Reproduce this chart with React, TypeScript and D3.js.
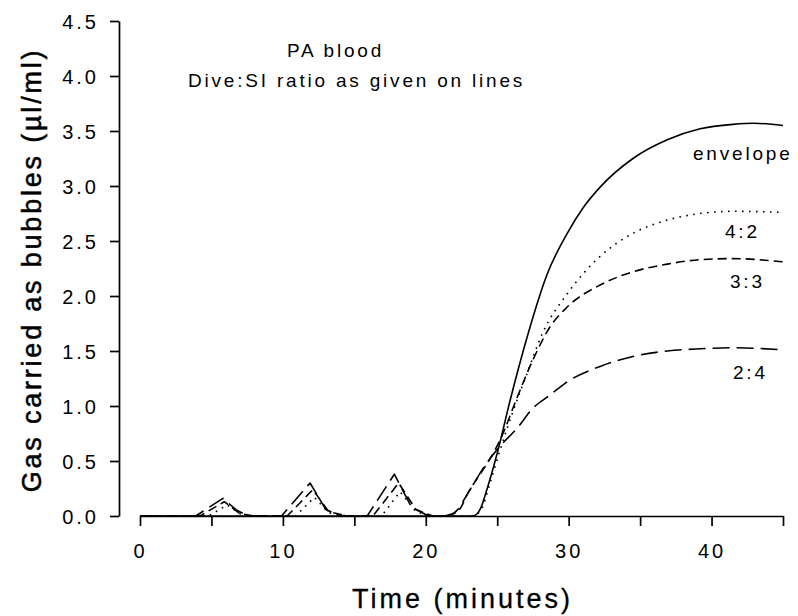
import React, { useEffect, useRef } from 'react';
import * as d3 from 'd3';

const xTicks = [0, 5, 10, 15, 20, 25, 30, 35, 40, 45];
const yTicks = [0, 0.5, 1, 1.5, 2, 2.5, 3, 3.5, 4, 4.5];

// [time (min), gas (µl/ml)]
const envelope: [number, number][] = [
  [0, 0], [22, 0], [23.3, 0], [23.8, 0.06], [24.3, 0.25], [25.0, 0.57], [25.9, 1.05],
  [27.1, 1.63], [28.5, 2.2], [29.9, 2.57], [31.0, 2.8], [32.2, 2.99], [34.5, 3.25],
  [36.9, 3.42], [39.2, 3.52], [41.5, 3.56], [43.0, 3.57], [45, 3.55],
];

const ratio42: [number, number][] = [
  [0, 0], [4.8, 0], [6.1, 0.1], [7.0, 0.02], [8.0, 0], [10.9, 0], [12.2, 0.17], [13.2, 0.03],
  [14.5, 0], [16.9, 0], [18.2, 0.22], [19.3, 0.04], [20.4, 0], [23.2, 0], [23.8, 0.04],
  [24.5, 0.3], [25.2, 0.6], [26.1, 0.95], [27.1, 1.3], [28.2, 1.67], [29.9, 2.02],
  [32.2, 2.36], [34.5, 2.57], [36.9, 2.69], [39.2, 2.75], [41.5, 2.77], [45, 2.76],
];

const ratio33: [number, number][] = [
  [0, 0], [4.2, 0], [5.9, 0.13], [7.0, 0.02], [8.0, 0], [10.3, 0], [12.1, 0.24], [13.2, 0.04],
  [14.5, 0], [16.3, 0], [18.1, 0.3], [19.3, 0.06], [20.5, 0], [21.5, 0], [22.3, 0.05],
  [23.0, 0.22], [23.8, 0.38], [24.4, 0.5], [25.2, 0.69], [26.4, 1.08], [27.5, 1.42],
  [28.7, 1.72], [29.9, 1.9], [32.2, 2.1], [34.5, 2.22], [36.9, 2.29], [39.2, 2.33],
  [41.5, 2.34], [45, 2.31],
];

const ratio24: [number, number][] = [
  [0, 0], [3.9, 0], [5.8, 0.16], [6.8, 0.05], [7.6, 0], [9.9, 0], [11.9, 0.3], [13.0, 0.06],
  [14.0, 0], [15.9, 0], [17.8, 0.38], [19.0, 0.08], [20.2, 0], [21.3, 0], [22.0, 0.03],
  [23.1, 0.24], [24.1, 0.45], [25.1, 0.62], [26.4, 0.8], [27.5, 0.98], [28.7, 1.1],
  [29.9, 1.22], [32.2, 1.36], [34.5, 1.45], [36.9, 1.5], [39.2, 1.52], [41.5, 1.53], [45, 1.51],
];

const FONT = '"Liberation Sans", Arial, Helvetica, sans-serif';

const App = () => {
  const ref = useRef<SVGSVGElement>(null);

  useEffect(() => {
    const svg = d3.select(ref.current);
    svg.selectAll('*').remove();

    const x = d3.scaleLinear().domain([0, 45]).range([140, 783]);
    const y = d3.scaleLinear().domain([0, 4.5]).range([516, 21]);

    // y axis sits a little left of where the x axis starts
    const yAxis = svg.append('g')
      .attr('transform', 'translate(119,0)')
      .call(d3.axisLeft(y).tickValues(yTicks).tickSize(9).tickSizeOuter(0).tickPadding(11)
        .tickFormat((d) => d3.format('.1f')(d as number)));

    const xAxis = svg.append('g')
      .attr('transform', 'translate(0,516)')
      .call(d3.axisBottom(x).tickValues(xTicks).tickSize(10).tickSizeOuter(0).tickPadding(18)
        .tickFormat((d) => ((d as number) % 10 === 0 ? String(d) : '')));

    [yAxis, xAxis].forEach((g) => {
      g.selectAll('path, line').attr('stroke', '#000').attr('stroke-width', 1.7);
      g.selectAll('text')
        .attr('fill', '#000')
        .style('font-family', FONT)
        .style('font-size', '20px')
        .style('letter-spacing', '3px');
    });
    yAxis.selectAll('text').attr('dy', '0.36em');

    // sharp spikes during the repeated dives, smooth rise after
    const spikeLine = d3.line<[number, number]>()
      .x((d) => x(d[0]))
      .y((d) => y(d[1]));
    const riseLine = d3.line<[number, number]>()
      .x((d) => x(d[0]))
      .y((d) => y(d[1]))
      .curve(d3.curveMonotoneX);

    const series = [
      { data: envelope, dash: null },
      { data: ratio42, dash: '1.6,5.4' },
      { data: ratio33, dash: '9,5' },
      { data: ratio24, dash: '17,7' },
    ];

    series.forEach((s) => {
      const cut = s.data.findIndex((d) => d[0] > 21 && d[1] === 0);
      const early = s.data.slice(0, cut + 1);
      const late = s.data.slice(cut);
      [[early, spikeLine], [late, riseLine]].forEach(([pts, gen]: any) => {
        svg.append('path')
          .attr('d', gen(pts))
          .attr('fill', 'none')
          .attr('stroke', '#000')
          .attr('stroke-width', 1.6)
          .attr('stroke-linejoin', 'round')
          .attr('stroke-dasharray', s.dash);
      });
    });

    const text = (tx: number, ty: number, str: string, size: number, spacing: number) =>
      svg.append('text')
        .attr('x', tx)
        .attr('y', ty)
        .attr('fill', '#000')
        .style('font-family', FONT)
        .style('font-size', `${size}px`)
        .style('letter-spacing', `${spacing}px`)
        .text(str);

    text(287, 57, 'PA blood', 19, 2.8);
    text(188, 87, 'Dive:SI ratio as given on lines', 19, 2.8);

    text(693, 160, 'envelope', 19, 2.8);
    text(725, 238, '4:2', 19, 2.8);
    text(730, 288, '3:3', 19, 2.8);
    text(733, 379, '2:4', 19, 2.8);

    text(352, 608, 'Time (minutes)', 27, 3)
      .attr('stroke', '#000').attr('stroke-width', 0.3);

    svg.append('text')
      .attr('transform', 'translate(41,270) rotate(-90)')
      .attr('text-anchor', 'middle')
      .attr('fill', '#000')
      .attr('stroke', '#000')
      .attr('stroke-width', 0.5)
      .style('font-family', FONT)
      .style('font-size', '27px')
      .style('letter-spacing', '2.8px')
      .text('Gas carried as bubbles (µl/ml)');
  }, []);

  return (
    <svg
      ref={ref}
      width={798}
      height={616}
      style={{ position: 'absolute', left: 0, top: 0, background: '#fff' }}
    />
  );
};

export default App;
